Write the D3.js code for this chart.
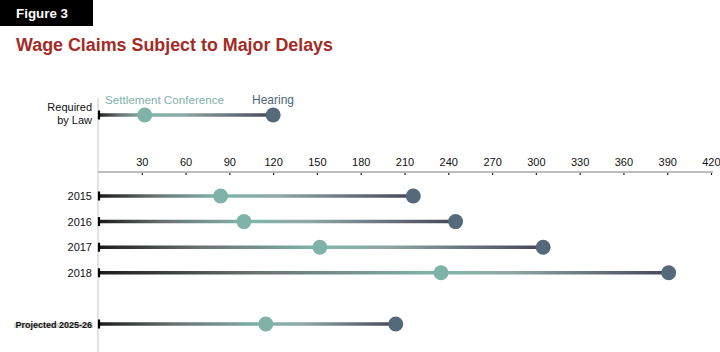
<!DOCTYPE html>
<html><head><meta charset="utf-8">
<script src="https://cdn.jsdelivr.net/npm/d3@7"></script>
<style>body{margin:0;background:#fff}svg{display:block;font-family:"Liberation Sans",Arial,sans-serif}</style>
</head><body><svg id="c" width="720" height="352"></svg>
<script>
const categories = ["2015", "2016", "2017", "2018", "Projected 2025-26"];
const settlementDays = [84, 100, 152, 235, 115];
const hearingDays = [216, 245, 305, 391, 204];
const requiredSettlement = 32;
const requiredHearing = 120;
const tickValues = [30, 60, 90, 120, 150, 180, 210, 240, 270, 300, 330, 360, 390, 420];

const svg = d3.select("#c");
const x = d3.scaleLinear().domain([0, 420]).range([98, 711]);
const y = d3.scalePoint().domain(["2015","2016","2017","2018","gap","Projected 2025-26"]).range([196, 324]).padding(0);
const yReq = 115;
const teal = "#7fb3a8", slate = "#546a7a";

// Figure box and title
svg.append("rect").attr("x",0).attr("y",0).attr("width",93).attr("height",26).attr("fill","#000");
svg.append("text").attr("x",16).attr("y",18).attr("fill","#fff").attr("font-weight","bold").attr("font-size",13).attr("textLength",52).attr("lengthAdjust","spacingAndGlyphs").text("Figure 3");
svg.append("text").attr("x",16).attr("y",51).attr("fill","#a32b26").attr("font-weight","bold").attr("font-size",17.5).attr("textLength",317).attr("lengthAdjust","spacingAndGlyphs").text("Wage Claims Subject to Major Delays");

// vertical axis line
svg.append("line").attr("x1",98).attr("x2",98).attr("y1",98).attr("y2",352).attr("stroke","#e3e3e3").attr("stroke-width",2);

// top axis
const axis = d3.axisTop(x).tickValues(tickValues).tickSize(0).tickPadding(6);
const ag = svg.append("g").attr("transform","translate(0,172)").call(axis);
ag.select(".domain").remove();
ag.append("line").attr("x1",98).attr("x2",713).attr("y1",0).attr("y2",0).attr("stroke","#bdbdbd").attr("stroke-width",2);
ag.selectAll(".tick").append("line").attr("y1",0).attr("y2",3).attr("stroke","#222").attr("stroke-width",1.2);
ag.selectAll(".tick text").attr("font-size",11).attr("fill","#111").attr("font-family","Liberation Sans, Arial, sans-serif");
ag.selectAll(".tick text").filter(d => d === 420).attr("text-anchor","end").attr("dx","9");

const defs = svg.append("defs");
function drawRow(yy, s, h, id) {
  const g = defs.append("linearGradient").attr("id", id).attr("gradientUnits","userSpaceOnUse")
    .attr("x1", x(0)).attr("x2", x(h)).attr("y1", 0).attr("y2", 0);
  const fs = (x(s)-x(0))/(x(h)-x(0));
  g.append("stop").attr("offset",0).attr("stop-color","#1a1a1a");
  g.append("stop").attr("offset",fs*0.45).attr("stop-color","#6a7070");
  g.append("stop").attr("offset",fs).attr("stop-color","#80b6ab");
  g.append("stop").attr("offset",fs + (1-fs)*0.3).attr("stop-color","#8fa7a5");
  g.append("stop").attr("offset",1).attr("stop-color","#474659");
  svg.append("line").attr("x1",x(0)).attr("x2",x(h)).attr("y1",yy).attr("y2",yy).attr("stroke",`url(#${id})`).attr("stroke-width",3.5);
  svg.append("line").attr("x1",x(0)+1).attr("x2",x(0)+1).attr("y1",yy-4.5).attr("y2",yy+4.5).attr("stroke","#000").attr("stroke-width",2.2);
  svg.append("circle").attr("cx",x(s)).attr("cy",yy).attr("r",7.5).attr("fill",teal);
  svg.append("circle").attr("cx",x(h)).attr("cy",yy).attr("r",7.5).attr("fill",slate);
}

// Required by law row
drawRow(yReq, requiredSettlement, requiredHearing, "gReq");
svg.append("text").attr("x",92).attr("y",111).attr("text-anchor","end").attr("font-size",11).attr("fill","#111").text("Required");
svg.append("text").attr("x",92).attr("y",124).attr("text-anchor","end").attr("font-size",11).attr("fill","#111").text("by Law");
svg.append("text").attr("x",105).attr("y",104).attr("font-size",11.8).attr("fill",teal).attr("textLength",119).attr("lengthAdjust","spacingAndGlyphs").text("Settlement Conference");
svg.append("text").attr("x",252).attr("y",104).attr("font-size",12).attr("fill","#4e6475").text("Hearing");

categories.forEach((c, i) => {
  const yy = y(c);
  drawRow(yy, settlementDays[i], hearingDays[i], "g" + i);
  if (c.startsWith("Projected")) {
    svg.append("rect").attr("x",14).attr("y",yy-1).attr("width",79).attr("height",5).attr("fill","#d9d9d9");
    svg.append("text").attr("x",92).attr("y",yy+3.5).attr("text-anchor","end").attr("font-size",9).attr("font-weight","bold").attr("fill","#111").text(c);
  } else {
    svg.append("text").attr("x",92).attr("y",yy+4).attr("text-anchor","end").attr("font-size",11).attr("fill","#111").text(c);
  }
});
</script></body></html>
